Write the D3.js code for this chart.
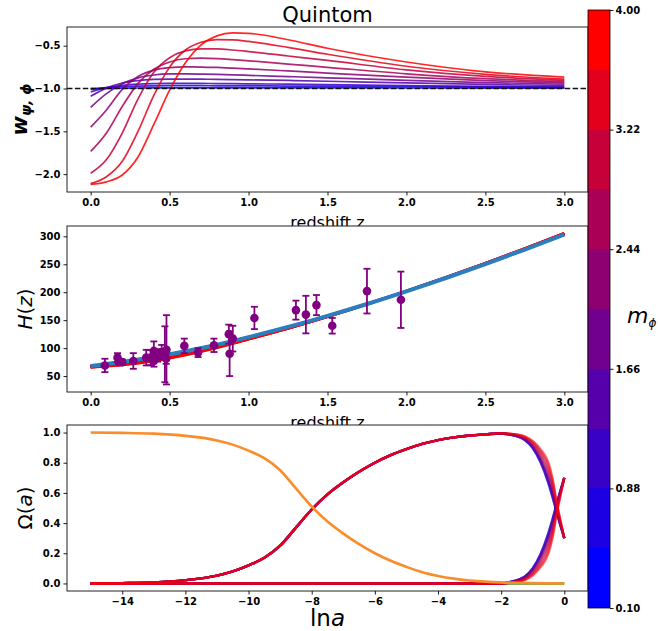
<!DOCTYPE html>
<html>
<head>
<meta charset="utf-8">
<script src="https://cdn.jsdelivr.net/npm/d3@7"></script>
<style>
  body { margin: 0; background: #fff; }
  svg { display: block; }
</style>
</head>
<body>
<svg id="chart" width="658" height="631"></svg>
<script>
// ---------- data ----------
// scalar-field masses (one curve each) and the colour-bar bins
const massValues = [0.10, 0.53, 0.97, 1.40, 1.83, 2.27, 2.70, 3.13, 3.57, 4.00];
const bandEdges = [0.10, 0.49, 0.88, 1.27, 1.66, 2.05, 2.44, 2.83, 3.22, 3.61, 4.00];
const colorbarTicks = [0.10, 0.88, 1.66, 2.44, 3.22, 4.00];

// equation of state w(z)
const zGrid = [0, 0.1, 0.2, 0.3, 0.4, 0.5, 0.6, 0.7, 0.8, 0.9, 1.0, 1.25, 1.5, 2.0, 2.5, 3.0];
const wCurves = [
  [-1.000, -0.998, -0.996, -0.994, -0.993, -0.992, -0.992, -0.992, -0.992, -0.992, -0.992, -0.993, -0.993, -0.994, -0.995, -0.996],
  [-1.010, -0.990, -0.977, -0.971, -0.968, -0.967, -0.967, -0.967, -0.968, -0.968, -0.969, -0.971, -0.973, -0.978, -0.983, -0.987],
  [-1.040, -0.990, -0.962, -0.948, -0.942, -0.940, -0.940, -0.941, -0.942, -0.943, -0.945, -0.949, -0.954, -0.965, -0.974, -0.980],
  [-1.090, -0.995, -0.935, -0.907, -0.894, -0.890, -0.890, -0.891, -0.893, -0.896, -0.899, -0.906, -0.915, -0.935, -0.952, -0.965],
  [-1.220, -1.060, -0.945, -0.875, -0.842, -0.830, -0.829, -0.831, -0.835, -0.840, -0.846, -0.860, -0.875, -0.905, -0.930, -0.950],
  [-1.450, -1.250, -1.010, -0.860, -0.785, -0.756, -0.748, -0.749, -0.754, -0.762, -0.771, -0.795, -0.820, -0.868, -0.908, -0.935],
  [-1.735, -1.520, -1.210, -0.940, -0.775, -0.690, -0.652, -0.645, -0.650, -0.662, -0.676, -0.714, -0.752, -0.828, -0.885, -0.920],
  [-1.990, -1.830, -1.520, -1.120, -0.810, -0.640, -0.560, -0.537, -0.538, -0.550, -0.568, -0.620, -0.672, -0.782, -0.858, -0.905],
  [-2.110, -2.030, -1.850, -1.500, -1.080, -0.750, -0.550, -0.460, -0.430, -0.433, -0.450, -0.520, -0.600, -0.740, -0.835, -0.890],
  [-2.120, -2.090, -2.010, -1.800, -1.420, -1.020, -0.700, -0.490, -0.385, -0.350, -0.355, -0.430, -0.530, -0.690, -0.805, -0.868]
];
const wReference = -1;

// Hubble rate H(z)
const hzGrid = [0, 0.25, 0.5, 0.75, 1.0, 1.25, 1.5, 1.75, 2.0, 2.25, 2.5, 2.75, 3.0];
const hzCurves = [
  [68.0, 77.3, 89.0, 102.9, 119.7, 137.9, 157.8, 179.0, 201.7, 225.5, 250.4, 276.4, 303.4],
  [67.9, 77.1, 88.8, 102.7, 119.6, 137.8, 157.7, 179.0, 201.7, 225.6, 250.5, 276.5, 303.6],
  [67.7, 76.8, 88.4, 102.4, 119.3, 137.6, 157.6, 178.9, 201.7, 225.7, 250.6, 276.7, 303.8],
  [67.5, 76.3, 87.9, 101.9, 118.9, 137.3, 157.4, 178.9, 201.8, 225.8, 250.8, 276.9, 304.0],
  [67.2, 75.7, 87.2, 101.3, 118.4, 136.9, 157.2, 178.8, 201.8, 225.9, 251.0, 277.1, 304.3],
  [66.9, 75.0, 86.3, 100.5, 117.8, 136.5, 156.9, 178.7, 201.9, 226.1, 251.2, 277.4, 304.6],
  [66.5, 74.1, 85.2, 99.6, 117.2, 136.0, 156.6, 178.6, 201.9, 226.2, 251.4, 277.6, 304.9],
  [66.1, 73.0, 84.0, 98.7, 116.6, 135.6, 156.3, 178.5, 202.0, 226.4, 251.7, 277.9, 305.2],
  [65.7, 71.9, 82.9, 97.9, 116.1, 135.2, 156.1, 178.4, 202.1, 226.6, 251.9, 278.2, 305.5],
  [65.4, 71.0, 82.0, 97.2, 115.7, 134.9, 155.9, 178.3, 202.2, 226.8, 252.1, 278.4, 305.7]
];
const hzLcdm = [68.0, 77.3, 89.0, 102.9, 119.7, 137.9, 157.8, 179.0, 201.7, 225.5, 250.4, 276.4, 303.3];

// cosmic-chronometer measurements
const obsZ   = [0.09, 0.17, 0.179, 0.199, 0.27, 0.352, 0.38, 0.40, 0.4004, 0.4247, 0.4497, 0.47, 0.4783, 0.48, 0.593, 0.68, 0.781, 0.875, 0.88, 0.90, 1.037, 1.30, 1.363, 1.43, 1.53, 1.75, 1.965];
const obsH   = [69, 83, 75, 75, 77, 83, 83, 95, 77, 87.1, 92.8, 89, 80.9, 97, 104, 92, 105, 125, 90, 117, 154, 168, 160, 177, 140, 202, 186.5];
const obsErr = [12, 8, 4, 5, 14, 14, 13.5, 17, 10.2, 11.2, 12.9, 50, 9, 62, 13, 8, 12, 17, 40, 23, 20, 17, 33.6, 18, 14, 40, 50.4];

// density parameters vs ln a
const lnaEarly = [-15, -14, -13, -12, -11, -10.5, -10, -9.5, -9, -8.5, -8, -7.5, -7, -6.5, -6, -5.5, -5, -4.5, -4, -3.5, -3, -2.5];
const matterEarly = [0.000, 0.002, 0.007, 0.022, 0.052, 0.080, 0.120, 0.170, 0.250, 0.370, 0.490, 0.590, 0.670, 0.740, 0.800, 0.850, 0.890, 0.925, 0.950, 0.968, 0.980, 0.988];
const fieldEarly = [0, 0, 0, 0, 0, 0, 0, 0, 0, 0, 0, 0, 0, 0, 0, 0, 0, 0, 0, 0, 0, 0];
const lnaLate = [-2, -1.75, -1.5, -1.25, -1, -0.75, -0.5, -0.375, -0.25, -0.125, 0];
const matterLate = [
  [0.994, 0.987, 0.975, 0.950, 0.897, 0.801, 0.660, 0.572, 0.477, 0.386, 0.30],
  [0.994, 0.987, 0.976, 0.951, 0.898, 0.805, 0.665, 0.577, 0.480, 0.387, 0.30],
  [0.994, 0.988, 0.976, 0.952, 0.900, 0.808, 0.671, 0.582, 0.483, 0.388, 0.30],
  [0.994, 0.988, 0.977, 0.954, 0.904, 0.815, 0.682, 0.592, 0.489, 0.391, 0.30],
  [0.995, 0.989, 0.978, 0.957, 0.909, 0.823, 0.695, 0.604, 0.495, 0.394, 0.30],
  [0.995, 0.989, 0.980, 0.960, 0.915, 0.835, 0.713, 0.621, 0.505, 0.399, 0.30],
  [0.995, 0.990, 0.982, 0.964, 0.923, 0.850, 0.736, 0.642, 0.517, 0.404, 0.30],
  [0.995, 0.991, 0.984, 0.968, 0.931, 0.865, 0.760, 0.664, 0.529, 0.410, 0.30],
  [0.996, 0.992, 0.986, 0.972, 0.939, 0.879, 0.783, 0.684, 0.541, 0.416, 0.30],
  [0.996, 0.993, 0.987, 0.975, 0.945, 0.890, 0.800, 0.700, 0.550, 0.420, 0.30]
];
const fieldLate = [
  [0.001, 0.009, 0.022, 0.047, 0.101, 0.197, 0.339, 0.427, 0.522, 0.614, 0.70],
  [0.001, 0.009, 0.021, 0.046, 0.100, 0.193, 0.334, 0.422, 0.519, 0.613, 0.70],
  [0.001, 0.008, 0.021, 0.045, 0.098, 0.190, 0.328, 0.417, 0.516, 0.612, 0.70],
  [0.001, 0.008, 0.020, 0.043, 0.094, 0.183, 0.317, 0.407, 0.510, 0.609, 0.70],
  [0.000, 0.007, 0.019, 0.040, 0.089, 0.175, 0.304, 0.395, 0.504, 0.606, 0.70],
  [0.000, 0.007, 0.017, 0.037, 0.083, 0.163, 0.286, 0.378, 0.494, 0.601, 0.70],
  [0.000, 0.006, 0.015, 0.033, 0.075, 0.148, 0.263, 0.357, 0.482, 0.596, 0.70],
  [0.000, 0.005, 0.013, 0.029, 0.067, 0.133, 0.239, 0.335, 0.470, 0.590, 0.70],
  [0.000, 0.004, 0.011, 0.025, 0.059, 0.119, 0.216, 0.315, 0.458, 0.584, 0.70],
  [0.000, 0.003, 0.010, 0.022, 0.053, 0.108, 0.199, 0.299, 0.449, 0.580, 0.70]
];
const lnaRad = [-15, -14, -13, -12, -11, -10.5, -10, -9.5, -9, -8.5, -8, -7.5, -7, -6.5, -6, -5.5, -5, -4.5, -4, -3.5, -3, -2.5, -2, -1.5, -1, 0];
const radiation = [1.000, 0.998, 0.993, 0.978, 0.948, 0.920, 0.880, 0.830, 0.750, 0.630, 0.510, 0.410, 0.330, 0.260, 0.200, 0.150, 0.110, 0.075, 0.050, 0.032, 0.020, 0.012, 0.007, 0.004, 0.002, 0.000];
const lnaPsi = [-15, -7.5, 0];
const psiField = [0, 0, 0];

// axis ticks
const zTicks = [0, 0.5, 1.0, 1.5, 2.0, 2.5, 3.0];
const wTicks = [-2.0, -1.5, -1.0, -0.5];
const hTicks = [50, 100, 150, 200, 250, 300];
const lnaTicks = [-14, -12, -10, -8, -6, -4, -2, 0];
const omegaTicks = [0.0, 0.2, 0.4, 0.6, 0.8, 1.0];

// ---------- layout ----------
const svg = d3.select("#chart");
const L = 67, R = 588;
const panels = {
  w:  { top: 27,  bottom: 192 },
  h:  { top: 226, bottom: 392 },
  om: { top: 425, bottom: 591 }
};
const cb = { x0: 588, x1: 610, top: 10, bottom: 608 };
const tickFont = "DejaVu Sans, sans-serif";
const minus = s => s.replace(/-/g, "\u2212");

const bandColor = k => d3.interpolateRgb("#0000ff", "#ff0000")(k / (bandEdges.length - 2));
const massColor = d3.scaleThreshold()
  .domain(bandEdges.slice(1, -1))
  .range(d3.range(bandEdges.length - 1).map(bandColor));

function background(p) {
  svg.append("rect").attr("x", L).attr("y", p.top)
    .attr("width", R - L).attr("height", p.bottom - p.top).attr("fill", "#fff");
}
function frame(p) {
  svg.append("rect").attr("x", L).attr("y", p.top)
    .attr("width", R - L).attr("height", p.bottom - p.top)
    .attr("fill", "none").attr("stroke", "#222").attr("stroke-width", 1);
}
function styleAxis(g) {
  g.select(".domain").remove();
  g.selectAll("line").attr("stroke", "#000").attr("stroke-width", 0.9);
  g.selectAll("text").attr("font-family", tickFont).attr("font-size", 10)
    .attr("font-weight", "bold").attr("fill", "#000");
}
function axes(p, x, y, xt, yt, xf, yf) {
  svg.append("g").attr("transform", `translate(0,${p.bottom})`)
    .call(d3.axisBottom(x).tickValues(xt).tickSize(3.5).tickPadding(3).tickFormat(d => minus(xf(d))))
    .call(styleAxis);
  svg.append("g").attr("transform", `translate(${L},0)`)
    .call(d3.axisLeft(y).tickValues(yt).tickSize(3.5).tickPadding(3).tickFormat(d => minus(yf(d))))
    .call(styleAxis);
}
function xLabel(p, txt) {
  svg.append("text").attr("x", (L + R) / 2).attr("y", p.bottom + 36)
    .attr("text-anchor", "middle").attr("font-family", tickFont)
    .attr("font-size", 16).attr("fill", "#000").text(txt);
}

// ---------- panel 1: w(z) ----------
const xZ = d3.scaleLinear().domain([-0.15, 3.15]).range([L, R]);
const yW = d3.scaleLinear().domain([-2.2085, -0.2815]).range([panels.w.bottom, panels.w.top]);
background(panels.w);
const lineW = d3.line().x((d, i) => xZ(zGrid[i])).y(d => yW(d)).curve(d3.curveMonotoneX);
wCurves.forEach((c, i) => {
  svg.append("path").attr("d", lineW(c)).attr("fill", "none")
    .attr("stroke", massColor(massValues[i])).attr("stroke-opacity", 0.85).attr("stroke-width", 1.7);
});
svg.append("line").attr("x1", L).attr("x2", R)
  .attr("y1", yW(wReference)).attr("y2", yW(wReference))
  .attr("stroke", "#111").attr("stroke-width", 1.5).attr("stroke-dasharray", "5.5,2.4");
frame(panels.w);
axes(panels.w, xZ, yW, zTicks, wTicks, d3.format(".1f"), d3.format(".1f"));
svg.append("text").attr("x", (L + R) / 2).attr("y", 22).attr("text-anchor", "middle")
  .attr("font-family", tickFont).attr("font-size", 21).attr("fill", "#000").text("Quintom");
xLabel(panels.w, "redshift z");
{
  const t = svg.append("text").attr("transform", `translate(27,${(panels.w.top + panels.w.bottom) / 2}) rotate(-90)`)
    .attr("text-anchor", "middle").attr("font-family", tickFont).attr("font-weight", "bold")
    .attr("font-style", "italic").attr("fill", "#000");
  t.append("tspan").attr("font-size", 21).text("w");
  t.append("tspan").attr("font-size", 14).attr("dy", 4).text("\u03c8, \u03d5");
}

// ---------- panel 2: H(z) ----------
const yH = d3.scaleLinear().domain([21.5, 318.5]).range([panels.h.bottom, panels.h.top]);
background(panels.h);
const lineH = d3.line().x((d, i) => xZ(hzGrid[i])).y(d => yH(d)).curve(d3.curveMonotoneX);
hzCurves.forEach((c, i) => {
  svg.append("path").attr("d", lineH(c)).attr("fill", "none")
    .attr("stroke", massColor(massValues[i])).attr("stroke-width", 2.6);
});
svg.append("path").attr("d", lineH(hzLcdm)).attr("fill", "none")
  .attr("stroke", "#2b7fbf").attr("stroke-width", 4);
const obs = obsZ.map((z, i) => ({ z, h: obsH[i], e: obsErr[i] }));
const eb = svg.append("g").attr("stroke", "#800080").attr("stroke-width", 1.8);
obs.forEach(d => {
  const x = xZ(d.z), y0 = yH(d.h - d.e), y1 = yH(d.h + d.e);
  eb.append("line").attr("x1", x).attr("x2", x).attr("y1", y0).attr("y2", y1);
  eb.append("line").attr("x1", x - 3.5).attr("x2", x + 3.5).attr("y1", y0).attr("y2", y0);
  eb.append("line").attr("x1", x - 3.5).attr("x2", x + 3.5).attr("y1", y1).attr("y2", y1);
});
svg.append("g").selectAll("circle").data(obs).join("circle")
  .attr("cx", d => xZ(d.z)).attr("cy", d => yH(d.h)).attr("r", 4.3).attr("fill", "#800080");
frame(panels.h);
axes(panels.h, xZ, yH, zTicks, hTicks, d3.format(".1f"), d3.format("d"));
xLabel(panels.h, "redshift z");
{
  const t = svg.append("text").attr("transform", `translate(32,${(panels.h.top + panels.h.bottom) / 2}) rotate(-90)`)
    .attr("text-anchor", "middle").attr("font-family", tickFont).attr("font-size", 20).attr("fill", "#000");
  t.append("tspan").attr("font-style", "italic").text("H");
  t.append("tspan").text("(");
  t.append("tspan").attr("font-style", "italic").text("z");
  t.append("tspan").text(")");
}

// ---------- panel 3: Omega(a) ----------
const xA = d3.scaleLinear().domain([-15.75, 0.75]).range([L, R]);
const yO = d3.scaleLinear().domain([-0.05, 1.05]).range([panels.om.bottom, panels.om.top]);
background(panels.om);
const lineO = d3.line().x(d => xA(d[0])).y(d => yO(d[1])).curve(d3.curveMonotoneX);
svg.append("path").attr("d", lineO(lnaPsi.map((a, i) => [a, psiField[i]])))
  .attr("fill", "none").attr("stroke", "#2ca02c").attr("stroke-width", 2.4);
massValues.forEach((m, i) => {
  const mat = lnaEarly.map((a, j) => [a, matterEarly[j]]).concat(lnaLate.map((a, j) => [a, matterLate[i][j]]));
  const fld = lnaEarly.map((a, j) => [a, fieldEarly[j]]).concat(lnaLate.map((a, j) => [a, fieldLate[i][j]]));
  [mat, fld].forEach(series => {
    svg.append("path").attr("d", lineO(series)).attr("fill", "none")
      .attr("stroke", massColor(m)).attr("stroke-opacity", 0.5).attr("stroke-width", 2.4);
  });
});
svg.append("path").attr("d", lineO(lnaRad.map((a, i) => [a, radiation[i]])))
  .attr("fill", "none").attr("stroke", "#fb8c2a").attr("stroke-width", 2.6);
frame(panels.om);
axes(panels.om, xA, yO, lnaTicks, omegaTicks, d3.format("d"), d3.format(".1f"));
{
  const t = svg.append("text").attr("x", (L + R) / 2).attr("y", 626).attr("text-anchor", "middle")
    .attr("font-family", tickFont).attr("font-size", 23).attr("fill", "#000");
  t.append("tspan").text("ln");
  t.append("tspan").attr("font-style", "italic").text("a");
}
{
  const t = svg.append("text").attr("transform", `translate(32,${(panels.om.top + panels.om.bottom) / 2}) rotate(-90)`)
    .attr("text-anchor", "middle").attr("font-family", tickFont).attr("font-size", 20).attr("fill", "#000");
  t.append("tspan").text("\u03a9(");
  t.append("tspan").attr("font-style", "italic").text("a");
  t.append("tspan").text(")");
}

// ---------- colour bar ----------
const yC = d3.scaleLinear().domain([bandEdges[0], bandEdges[bandEdges.length - 1]]).range([cb.bottom, cb.top]);
svg.append("g").selectAll("rect").data(d3.range(bandEdges.length - 1)).join("rect")
  .attr("x", cb.x0).attr("width", cb.x1 - cb.x0)
  .attr("y", k => yC(bandEdges[k + 1])).attr("height", k => yC(bandEdges[k]) - yC(bandEdges[k + 1]))
  .attr("fill", bandColor).attr("shape-rendering", "crispEdges");
svg.append("rect").attr("x", cb.x0).attr("y", cb.top).attr("width", cb.x1 - cb.x0)
  .attr("height", cb.bottom - cb.top).attr("fill", "none").attr("stroke", "#000").attr("stroke-width", 0.8);
svg.append("g").attr("transform", `translate(${cb.x1},0)`)
  .call(d3.axisRight(yC).tickValues(colorbarTicks).tickSize(3.5).tickPadding(2).tickFormat(d3.format(".2f")))
  .call(styleAxis);
{
  const t = svg.append("text").attr("x", 627).attr("y", 323).attr("font-family", tickFont)
    .attr("font-style", "italic").attr("fill", "#000");
  t.append("tspan").attr("font-size", 22).text("m");
  t.append("tspan").attr("font-size", 12).attr("dy", 4).text("\u03d5");
}
</script>
</body>
</html>
